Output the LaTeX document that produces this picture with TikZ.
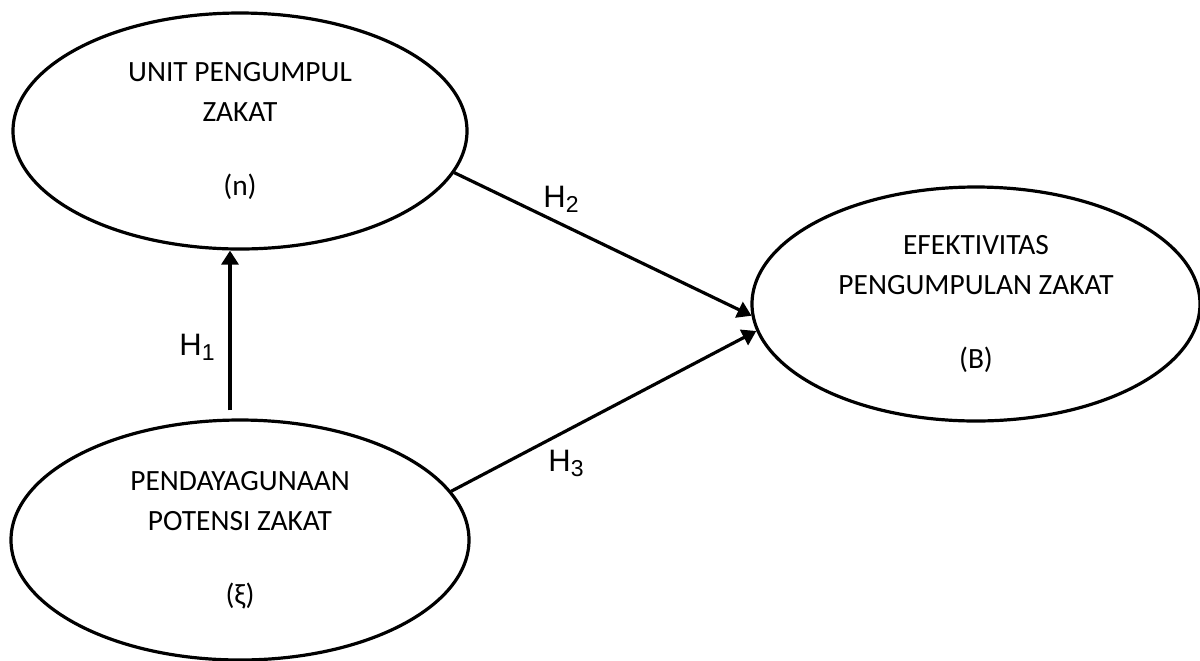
\documentclass[tikz,border=0pt]{standalone}
\usepackage{fontspec}
\setmainfont{Carlito}
\setsansfont{Liberation Sans}
\usetikzlibrary{shapes.geometric,arrows.meta}
\newcommand{\hyp}[1]{{\sffamily\fontsize{15.5}{15.5}\selectfont H\raisebox{-0.3ex}{\fontsize{11.5}{11.5}\selectfont #1}}}
\tikzset{
  var/.style={ellipse, draw, line width=1.6pt, inner sep=0pt, align=center,
    font=\fontsize{14.7}{20}\selectfont},
  arr/.style={line width=1.6pt, -{Triangle[length=7pt,width=8.5pt]}},
  hlab/.style={inner sep=0pt}
}
\begin{document}
\begin{tikzpicture}[x=0.5pt,y=-0.5pt]
\useasboundingbox (0,0) rectangle (1200,660);
\node[var, minimum width=227pt, minimum height=118pt] (unit) at (240,131)
  {UNIT PENGUMPUL\\ZAKAT\\[17pt](n)};
\node[var, minimum width=224pt, minimum height=117pt] (efek) at (976,304)
  {EFEKTIVITAS\\PENGUMPULAN ZAKAT\\[17pt](B)};
\node[var, minimum width=229pt, minimum height=120pt] (pend) at (240,540)
  {PENDAYAGUNAAN\\POTENSI ZAKAT\\[17pt](ξ)};
\draw[arr] ([xshift=-5pt,yshift=4pt]pend.north) -- ([xshift=-5pt]unit.south);
\draw[arr] (unit.-11) -- (efek.183);
\draw[arr] (pend.13) -- (efek.187);
\node[hlab] (h1) at (197,347) {\hyp{1}};
\node[hlab] (h2) at (561,199) {\hyp{2}};
\node[hlab] (h3) at (566,463) {\hyp{3}};
\end{tikzpicture}
\end{document}
